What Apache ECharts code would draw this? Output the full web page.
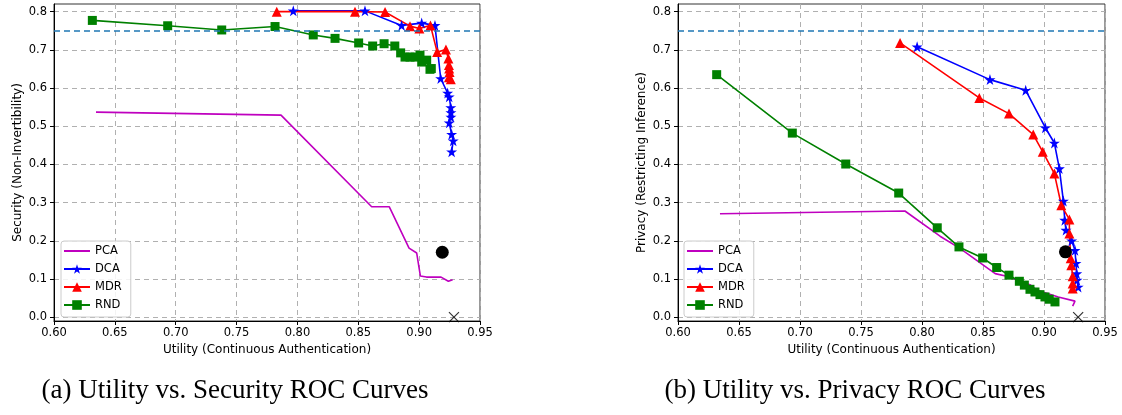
<!DOCTYPE html>
<html>
<head>
<meta charset="utf-8">
<script src="https://cdn.jsdelivr.net/npm/echarts@6/dist/echarts.min.js"></script>
<style>
html,body{margin:0;padding:0;background:#fff;}
#chart{width:1122px;height:415px;}
</style>
</head>
<body>
<div id="chart"></div>
<script>
// ---- Data (x = Utility, y = Security / Privacy) ----
const methods = ['PCA', 'DCA', 'MDR', 'RND'];
const xTicks = [0.60, 0.65, 0.70, 0.75, 0.80, 0.85, 0.90, 0.95];
const yTicks = [0.0, 0.1, 0.2, 0.3, 0.4, 0.5, 0.6, 0.7, 0.8];
const threshold = 0.75;

// (a) Utility vs. Security
const secPCA = [[0.6345,0.537],[0.7865,0.529],[0.861,0.289],[0.8755,0.289],[0.8917,0.181],[0.898,0.168],[0.901,0.108],[0.906,0.105],[0.918,0.105],[0.924,0.094],[0.9275,0.098]];
const secDCA = [[0.7966,0.802],[0.8555,0.802],[0.8856,0.764],[0.9021,0.770],[0.913,0.764],[0.9177,0.625],[0.9234,0.587],[0.9247,0.577],[0.926,0.549],[0.9261,0.536],[0.9261,0.524],[0.9247,0.509],[0.9267,0.479],[0.928,0.462],[0.9267,0.433]];
const secMDR = [[0.783,0.800],[0.8473,0.800],[0.872,0.799],[0.8925,0.762],[0.9002,0.756],[0.9093,0.764],[0.9148,0.694],[0.922,0.701],[0.924,0.677],[0.9245,0.660],[0.9247,0.651],[0.925,0.642],[0.9245,0.628],[0.926,0.623]];
const secRND = [[0.6315,0.777],[0.6934,0.763],[0.7378,0.752],[0.7816,0.761],[0.813,0.739],[0.8309,0.730],[0.8503,0.718],[0.8618,0.710],[0.8712,0.716],[0.880,0.710],[0.8848,0.692],[0.8884,0.681],[0.8925,0.681],[0.8966,0.681],[0.9007,0.686],[0.9021,0.668],[0.9062,0.673],[0.9089,0.649],[0.910,0.651]];
const secRef = [[0.919,0.170]];
const secIdeal = [[0.9286,0.0]];

// (b) Utility vs. Privacy
const privPCA = [[0.6344,0.271],[0.786,0.278],[0.8148,0.212],[0.8311,0.180],[0.86,0.114],[0.8694,0.107],[0.889,0.084],[0.894,0.071],[0.9117,0.053],[0.9254,0.042],[0.9235,0.029]];
const privDCA = [[0.796,0.708],[0.8557,0.622],[0.885,0.594],[0.9011,0.496],[0.9085,0.456],[0.9126,0.389],[0.9159,0.304],[0.917,0.254],[0.918,0.228],[0.9227,0.200],[0.9254,0.175],[0.9262,0.141],[0.9268,0.114],[0.927,0.097],[0.928,0.079]];
const privMDR = [[0.782,0.718],[0.847,0.574],[0.8713,0.533],[0.8912,0.478],[0.899,0.433],[0.9085,0.376],[0.9142,0.293],[0.9208,0.256],[0.9208,0.219],[0.9219,0.154],[0.9224,0.136],[0.9235,0.107],[0.9235,0.088],[0.9235,0.075]];
const privRND = [[0.6317,0.635],[0.6937,0.482],[0.7375,0.401],[0.7809,0.325],[0.8125,0.234],[0.8303,0.184],[0.8497,0.155],[0.8612,0.130],[0.8713,0.110],[0.8798,0.094],[0.8839,0.084],[0.8885,0.073],[0.8926,0.066],[0.8967,0.059],[0.9008,0.053],[0.9043,0.047],[0.909,0.040]];
const privRef = [[0.9176,0.171]];
const privIdeal = [[0.928,0.0]];

const xName = 'Utility (Continuous Authentication)';
const yNames = ['Security (Non-Invertibility)', 'Privacy (Restricting Inference)'];
const captions = ['(a) Utility vs. Security ROC Curves', '(b) Utility vs. Privacy ROC Curves'];

// ---- Styles ----
const colors = {PCA:'#bf00bf', DCA:'#0000ff', MDR:'#ff0000', RND:'#008000'};
const STAR = 'path://M50,0 L61.2,34.5 L97.6,34.5 L68.2,55.9 L79.4,90.5 L50,69.1 L20.6,90.5 L31.8,55.9 L2.4,34.5 L38.8,34.5 Z';
const XMARK = 'path://M0,0 L10,10 M10,0 L0,10';
const symbols = {PCA:'none', DCA:STAR, MDR:'triangle', RND:'rect'};
const sizes = {PCA:0, DCA:11, MDR:10, RND:9};
const font = 'DejaVu Sans';

const grids = [
  {left:54, top:4, width:426, height:317, show:true, borderColor:'#333', borderWidth:1, backgroundColor:'transparent'},
  {left:678, top:4, width:427, height:317, show:true, borderColor:'#333', borderWidth:1, backgroundColor:'transparent'}
];

function xAxisFor(i){
  return {
    type:'value', gridIndex:i, min:xTicks[0], max:xTicks[xTicks.length-1], interval:0.05,
    name:xName, nameLocation:'middle', nameGap:23,
    nameTextStyle:{fontFamily:font, fontSize:12, color:'#000'},
    axisLine:{show:true, onZero:false, lineStyle:{color:'#000', width:1}},
    axisTick:{show:true, length:4, lineStyle:{color:'#000'}},
    axisLabel:{fontFamily:font, fontSize:11.5, color:'#000', margin:6, formatter:v=>v.toFixed(2)},
    splitLine:{show:true, lineStyle:{color:'#b0b0b0', type:[5,4], width:1}}
  };
}
function yAxisFor(i){
  return {
    type:'value', gridIndex:i, min:-0.01, max:0.82, minInterval:0.1, maxInterval:0.1,
    name:yNames[i], nameLocation:'middle', nameGap:30,
    nameTextStyle:{fontFamily:font, fontSize:12, color:'#000'},
    axisLine:{show:true, onZero:false, lineStyle:{color:'#000', width:1}},
    axisTick:{show:true, length:4, lineStyle:{color:'#000'}, customValues:yTicks},
    axisLabel:{fontFamily:font, fontSize:11.5, color:'#000', margin:7,
      customValues:yTicks,
      formatter:v=>(Math.abs(v*10-Math.round(v*10))<1e-6 ? v.toFixed(1) : '')},
    splitLine:{show:true, lineStyle:{color:'#b0b0b0', type:[5,4], width:1}}
  };
}

const panelData = [
  {PCA:secPCA, DCA:secDCA, MDR:secMDR, RND:secRND, ref:secRef, ideal:secIdeal},
  {PCA:privPCA, DCA:privDCA, MDR:privMDR, RND:privRND, ref:privRef, ideal:privIdeal}
];

const series = [];
panelData.forEach((pd, i) => {
  methods.forEach(m => {
    series.push({
      name:m, type:'line', xAxisIndex:i, yAxisIndex:i, data:pd[m],
      symbol:symbols[m], symbolSize:sizes[m], showSymbol:m!=='PCA',
      lineStyle:{color:colors[m], width:1.6},
      itemStyle:{color:colors[m]},
      animation:false, z:3
    });
  });
  series.push({
    name:'ref', type:'scatter', xAxisIndex:i, yAxisIndex:i, data:pd.ref,
    symbol:'circle', symbolSize:13, itemStyle:{color:'#000', opacity:1}, animation:false, z:4,
    markLine:{silent:true, symbol:'none', label:{show:false},
      lineStyle:{color:'#1f77b4', type:[6,4], width:1.6},
      data:[{yAxis:threshold}], animation:false}
  });
  series.push({
    name:'ideal', type:'scatter', xAxisIndex:i, yAxisIndex:i, data:pd.ideal,
    symbol:XMARK, symbolSize:10, itemStyle:{color:'none', borderColor:'#000', borderWidth:1.2},
    animation:false, z:4
  });
});

function legendFor(left){
  return {
    data:methods.map(m => m === 'PCA' ? {name:m, itemStyle:{opacity:0}} : {name:m}),
    orient:'vertical', left:left, top:241,
    itemWidth:26, itemHeight:12, itemGap:6,
    padding:[4,9,6,2],
    backgroundColor:'rgba(255,255,255,0.85)', borderColor:'#ccc', borderWidth:1, borderRadius:3,
    textStyle:{fontFamily:font, fontSize:11.5, color:'#000'},
    selectedMode:false
  };
}

const chart = echarts.init(document.getElementById('chart'), null, {renderer:'canvas'});
chart.setOption({
  animation:false,
  backgroundColor:'#fff',
  grid:grids,
  xAxis:[xAxisFor(0), xAxisFor(1)],
  yAxis:[yAxisFor(0), yAxisFor(1)],
  legend:[legendFor(61), legendFor(684)],
  series:series,
  graphic:[
    {type:'text', x:235, y:391, style:{text:captions[0], fontFamily:'Liberation Serif', fontSize:27, fill:'#000', textAlign:'center', textVerticalAlign:'middle'}},
    {type:'text', x:855, y:391, style:{text:captions[1], fontFamily:'Liberation Serif', fontSize:27, fill:'#000', textAlign:'center', textVerticalAlign:'middle'}}
  ]
});
</script>
</body>
</html>
